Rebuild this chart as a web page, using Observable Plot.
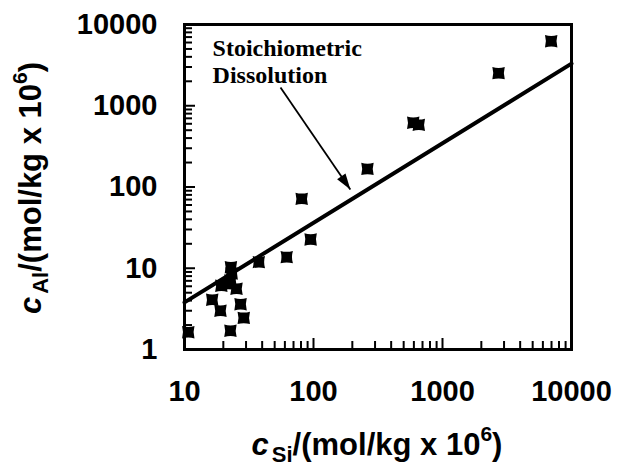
<!DOCTYPE html>
<html>
<head>
<meta charset="utf-8">
<script src="https://cdn.jsdelivr.net/npm/d3@7"></script>
<script src="https://cdn.jsdelivr.net/npm/@observablehq/plot@0.6"></script>
<style>
  html, body { margin: 0; padding: 0; background: #fff; }
  #chart svg { display: block; }
</style>
</head>
<body>
<div id="chart"></div>
<script>
// Measured points: Si concentration (x) vs Al concentration (y), mol/kg x 10^6
const siConc = [10.7, 16.4, 19.0, 22.7, 19.3, 22.0, 22.7, 23.2, 22.9, 25.3, 27.2, 28.8, 37.7, 62, 81, 95, 262, 593, 655, 2720, 6960];
const alConc = [1.63, 4.1, 3.0, 1.7, 6.1, 6.4, 7.1, 8.6, 10.3, 5.6, 3.6, 2.45, 11.9, 13.7, 71.5, 22.6, 167, 617, 582, 2518, 6220];

// Stoichiometric dissolution line (end points)
const lineSi = [10, 10000];
const lineAl = [3.8, 3300];

// Annotation
const noteLines = ["Stoichiometric", "Dissolution"];
const noteSi = [16.5, 16.5];
const noteAl = [4150, 1880];
const arrowFrom = {si: 55.5, al: 1680};
const arrowTo = {si: 193, al: 93};

// Tick values
const xMajorTicks = [10, 100, 1000, 10000];
const xMinorTicks = [20, 30, 40, 50, 60, 70, 80, 90, 200, 300, 400, 500, 600, 700, 800, 900, 2000, 3000, 4000, 5000, 6000, 7000, 8000, 9000];
const yMajorTicks = [1, 10, 100, 1000, 10000];
const yMinorTicks = [2, 3, 4, 5, 6, 7, 8, 9, 20, 30, 40, 50, 60, 70, 80, 90, 200, 300, 400, 500, 600, 700, 800, 900, 2000, 3000, 4000, 5000, 6000, 7000, 8000, 9000];

const points = siConc.map((s, i) => ({si: s, al: alConc[i]}));
const lineData = lineSi.map((s, i) => ({si: s, al: lineAl[i]}));
const notes = noteLines.map((t, i) => ({text: t, si: noteSi[i], al: noteAl[i]}));

// concave-sided square marker
const pinchedSquare = {
  draw(ctx, size) {
    const s = Math.sqrt(size) / 2;
    const k = s * 0.3;
    ctx.moveTo(-s, -s);
    ctx.quadraticCurveTo(0, -s + k, s, -s);
    ctx.quadraticCurveTo(s - k, 0, s, s);
    ctx.quadraticCurveTo(0, s - k, -s, s);
    ctx.quadraticCurveTo(-s + k, 0, -s, -s);
    ctx.closePath();
  }
};
// filled arrow head, tip at origin pointing up
const arrowHead = {
  draw(ctx, size) {
    const L = Math.sqrt(size);
    ctx.moveTo(0, 0);
    ctx.lineTo(-L * 0.32, L);
    ctx.lineTo(L * 0.32, L);
    ctx.closePath();
  }
};

const W = 617, H = 476;
const mL = 184, mR = 46, mT = 24, mB = 127;
const innerW = W - mL - mR, innerH = H - mT - mB;
const sansFont = "'Liberation Sans', Arial, Helvetica, sans-serif";
const tickFont = 29;
const minorLen = 8, majorLen = 11;

const plot = Plot.plot({
  width: W,
  height: H,
  marginLeft: mL,
  marginRight: mR,
  marginTop: mT,
  marginBottom: mB,
  style: {fontFamily: sansFont, background: "white", color: "black"},
  x: {type: "log", domain: [10, 10000], axis: null},
  y: {type: "log", domain: [1, 10000], axis: null},
  marks: [
    // inward ticks on left and bottom edges
    Plot.tickY(yMinorTicks, {y: d => d, stroke: "black", strokeWidth: 2, insetRight: innerW - minorLen}),
    Plot.tickY(yMajorTicks, {y: d => d, stroke: "black", strokeWidth: 2, insetRight: innerW - majorLen}),
    Plot.tickX(xMinorTicks, {x: d => d, stroke: "black", strokeWidth: 2, insetTop: innerH - minorLen}),
    Plot.tickX(xMajorTicks, {x: d => d, stroke: "black", strokeWidth: 2, insetTop: innerH - majorLen}),
    // tick labels
    Plot.axisY(yMajorTicks, {anchor: "left", tickSize: 0, tickPadding: 27, fontSize: tickFont, fontWeight: "bold", tickFormat: d => String(d), label: null}),
    Plot.axisX(xMajorTicks, {anchor: "bottom", tickSize: 0, tickPadding: 31, fontSize: tickFont, fontWeight: "bold", tickFormat: d => String(d), label: null}),
    Plot.frame({stroke: "black", strokeWidth: 3}),
    // stoichiometric line
    Plot.line(lineData, {x: "si", y: "al", stroke: "black", strokeWidth: 4}),
    // data points
    Plot.dot(points, {x: "si", y: "al", symbol: pinchedSquare, r: 7, fill: "black", stroke: "none"}),
    // annotation
    Plot.text(notes, {x: "si", y: "al", text: "text", textAnchor: "start", lineAnchor: "bottom", fontFamily: "'Liberation Serif', 'Times New Roman', serif", fontWeight: "bold", fontSize: 24, fill: "black"}),
    Plot.link([{x1: arrowFrom.si, y1: arrowFrom.al, x2: arrowTo.si, y2: arrowTo.al}], {x1: "x1", y1: "y1", x2: "x2", y2: "y2", stroke: "black", strokeWidth: 1.8}),
    Plot.dot([arrowTo], {x: "si", y: "al", symbol: arrowHead, r: 9, rotate: 145.5, fill: "black", stroke: "none"})
  ]
});

document.getElementById("chart").appendChild(plot);

// Axis titles with subscripts / superscripts
const svg = d3.select(plot);
function title(sel, sub) {
  sel.attr("font-size", 31).attr("font-weight", "bold").attr("fill", "black")
     .attr("text-anchor", "middle").attr("font-family", sansFont);
  sel.append("tspan").attr("font-style", "italic").text("c");
  sel.append("tspan").attr("font-size", 22).attr("dx", 3).attr("dy", 7).text(sub);
  sel.append("tspan").attr("dy", -7).text("/(mol/kg x 10");
  sel.append("tspan").attr("font-size", 21).attr("dy", -14).text("6");
  sel.append("tspan").attr("dy", 14).text(")");
}
title(svg.append("text").attr("x", 377).attr("y", 455), "Si");
title(svg.append("text").attr("transform", "translate(41,188) rotate(-90)"), "Al");
</script>
</body>
</html>
